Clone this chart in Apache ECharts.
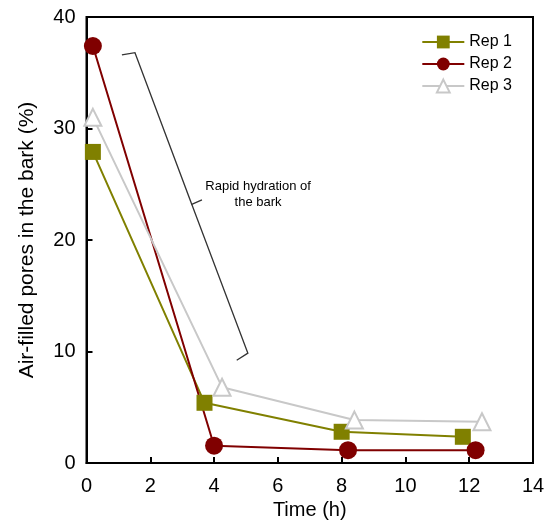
<!DOCTYPE html>
<html><head><meta charset="utf-8">
<script src="https://cdn.jsdelivr.net/npm/echarts@6/dist/echarts.min.js"></script>
<style>html,body{margin:0;padding:0;background:#fff}#c{width:551px;height:522px}</style>
</head><body><div id="c"></div>
<script>
const seriesNames = ['Rep 1', 'Rep 2', 'Rep 3'];
const rep1 = [[0.2, 27.9], [3.7, 5.4], [8.0, 2.8], [11.8, 2.35]];
const rep2 = [[0.2, 37.4], [4.0, 1.55], [8.2, 1.15], [12.2, 1.15]];
const rep3 = [[0.2, 31.0], [4.25, 6.8], [8.4, 3.85], [12.4, 3.7]];
const xTicks = [0, 2, 4, 6, 8, 10, 12, 14];
const yTicks = [0, 10, 20, 30, 40];
const annotationText = ['Rapid hydration of', 'the bark'];
// bracket path in data coordinates
const bracketUpper = [[1.11, 36.6], [1.52, 36.8], [3.30, 23.2], [3.62, 23.6]];
const bracketLower = [[3.30, 23.2], [5.06, 9.85], [4.71, 9.22]];
const annotationAt = [5.38, 25.5];

const font = 'Liberation Sans, Arial, sans-serif';
const chart = echarts.init(document.getElementById('c'));
const axisBase = {
  axisLine: {show: true, lineStyle: {color: '#000', width: 2}},
  axisTick: {show: true, inside: true, length: 6, lineStyle: {color: '#000', width: 2}},
  splitLine: {show: false},
  nameLocation: 'middle',
  nameTextStyle: {fontFamily: font, fontSize: 20, color: '#000'},
  axisLabel: {fontFamily: font, fontSize: 20, color: '#000'}
};
chart.setOption({
  animation: false,
  grid: {left: 86.5, right: 18, top: 17, bottom: 59, containLabel: false, outerBoundsMode: 'none',
         show: true, borderColor: '#000', borderWidth: 2},
  legend: {
    top: 29, right: 34, orient: 'vertical', itemGap: 6, itemWidth: 42, itemHeight: 16,
    textStyle: {fontFamily: font, fontSize: 16, color: '#000'},
    data: seriesNames
  },
  xAxis: Object.assign({}, axisBase, {
    type: 'value', min: xTicks[0], max: xTicks[xTicks.length - 1], interval: 2,
    name: 'Time (h)', nameGap: 36,
    axisLabel: Object.assign({}, axisBase.axisLabel, {margin: 13})
  }),
  yAxis: Object.assign({}, axisBase, {
    type: 'value', min: yTicks[0], max: yTicks[yTicks.length - 1], interval: 10,
    name: 'Air-filled pores in the bark (%)', nameGap: 49,
    nameTextStyle: {fontFamily: font, fontSize: 21, color: '#000'},
    axisLabel: Object.assign({}, axisBase.axisLabel, {margin: 11})
  }),
  series: [
    {name: seriesNames[0], type: 'line', data: rep1, symbol: 'rect', symbolSize: 16,
     lineStyle: {color: '#808000', width: 2}, itemStyle: {color: '#808000'}},
    {name: seriesNames[1], type: 'line', data: rep2, symbol: 'circle', symbolSize: 18,
     lineStyle: {color: '#800000', width: 2}, itemStyle: {color: '#800000'}},
    {name: seriesNames[2], type: 'line', data: rep3, symbol: 'triangle', symbolSize: 17,
     lineStyle: {color: '#c8c8c8', width: 2},
     itemStyle: {color: '#fff', borderColor: '#c8c8c8', borderWidth: 2}}
  ]
});
const px = p => chart.convertToPixel({gridIndex: 0}, p);
const tp = px(annotationAt);
chart.setOption({
  graphic: [
    {type: 'polyline', shape: {points: bracketUpper.map(px)}, style: {stroke: '#333', lineWidth: 1.3, fill: null}},
    {type: 'polyline', shape: {points: bracketLower.map(px)}, style: {stroke: '#333', lineWidth: 1.3, fill: null}},
    {type: 'text', x: tp[0], y: tp[1], style: {text: annotationText.join('\n'), font: '13px ' + font, fill: '#000', align: 'center', verticalAlign: 'top', lineHeight: 16}}
  ]
});
</script></body></html>
